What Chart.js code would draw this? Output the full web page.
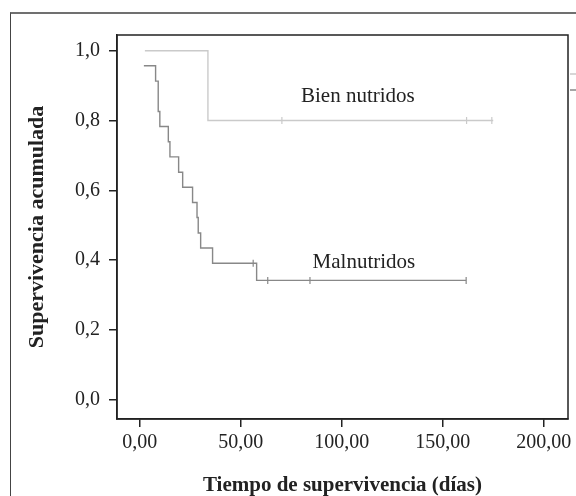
<!DOCTYPE html>
<html>
<head>
<meta charset="utf-8">
<script src="https://cdn.jsdelivr.net/npm/chart.js@4"></script>
<style>
body { margin: 0; background: #fff; }
#wrap { position: relative; width: 576px; height: 496px; overflow: hidden; }
#frame { position: absolute; left: 10px; top: 12px; width: 620px; height: 540px; border-top: 2px solid #707070; border-left: 1px solid #444; }
canvas { position: absolute; left: 0; top: 0; }
</style>
</head>
<body>
<div id="wrap">
  <div id="frame"></div>
  <canvas id="kmChart" width="576" height="496"></canvas>
</div>
<script>
// ticks
var xTicks = [0, 50, 100, 150, 200];
var yTicks = [0, 0.2, 0.4, 0.6, 0.8, 1.0];

// Bien nutridos (tiempo en dias, supervivencia)
var bienTimes = [2.6, 33.8, 175];
var bienSurv = [1.0, 0.8, 0.8];
var bienCensTimes = [70.4, 161.8, 174.3];
var bienCensSurv = [0.8, 0.8, 0.8];

// Malnutridos
var malTimes = [2.1, 7.9, 9.2, 10.0, 14.2, 15.0, 19.3, 21.3, 26.2, 28.4, 29.0, 30.2, 36.1, 57.9, 161.6];
var malSurv = [0.957, 0.913, 0.826, 0.783, 0.739, 0.696, 0.652, 0.609, 0.565, 0.522, 0.478, 0.435, 0.391, 0.342, 0.342];
var malCensTimes = [56.2, 63.4, 84.3, 161.6];
var malCensSurv = [0.391, 0.342, 0.342, 0.342];

var groupNames = ['Bien nutridos', 'Malnutridos'];

function toPoints(xs, ys) {
    return xs.map(function (x, i) { return { x: x, y: ys[i] }; });
}

var serif = '"Liberation Serif", "DejaVu Serif", serif';
var bienColor = '#cacaca';
var malColor = '#888888';

//box round the plot, curve names and the cut legend bits on the right
var extras = {
    id: 'extras',
    afterDatasetsDraw: function (chart) {
        var ctx = chart.ctx;
        var a = chart.chartArea;
        var xs = chart.scales.x;
        var ys = chart.scales.y;
        ctx.save();
        ctx.strokeStyle = '#222';
        ctx.lineWidth = 1.5;
        ctx.strokeRect(a.left, a.top, a.right - a.left, a.bottom - a.top);

        ctx.font = '21px ' + serif;
        ctx.fillStyle = '#222';
        ctx.textAlign = 'center';
        ctx.textBaseline = 'middle';
        ctx.fillText(groupNames[0], xs.getPixelForValue(108), ys.getPixelForValue(0.87));
        ctx.fillText(groupNames[1], xs.getPixelForValue(111), ys.getPixelForValue(0.393));

        ctx.lineWidth = 1.5;
        ctx.strokeStyle = bienColor;
        ctx.beginPath();
        ctx.moveTo(a.right + 2, a.top + 39);
        ctx.lineTo(chart.width, a.top + 39);
        ctx.stroke();
        ctx.strokeStyle = malColor;
        ctx.beginPath();
        ctx.moveTo(a.right + 2, a.top + 55);
        ctx.lineTo(chart.width, a.top + 55);
        ctx.stroke();
        ctx.restore();
    }
};

var ctx = document.getElementById('kmChart');
var kmChart = new Chart(ctx, {
    type: 'line',
    data: {
        datasets: [{
            label: groupNames[0],
            data: toPoints(bienTimes, bienSurv),
            borderColor: bienColor,
            borderWidth: 1.4,
            stepped: 'before',
            pointRadius: 0,
            fill: false
        }, {
            label: groupNames[1],
            data: toPoints(malTimes, malSurv),
            borderColor: malColor,
            borderWidth: 1.4,
            stepped: 'before',
            pointRadius: 0,
            fill: false
        }, {
            label: groupNames[0] + ' censurado',
            data: toPoints(bienCensTimes, bienCensSurv),
            showLine: false,
            pointStyle: 'line',
            rotation: 90,
            pointRadius: 3.5,
            pointBorderWidth: 1.2,
            pointBorderColor: bienColor,
            borderColor: bienColor
        }, {
            label: groupNames[1] + ' censurado',
            data: toPoints(malCensTimes, malCensSurv),
            showLine: false,
            pointStyle: 'line',
            rotation: 90,
            pointRadius: 3.5,
            pointBorderWidth: 1.2,
            pointBorderColor: malColor,
            borderColor: malColor
        }]
    },
    options: {
        responsive: false,
        animation: false,
        layout: { padding: { top: 35, right: 8, left: 0, bottom: 0 } },
        plugins: {
            legend: { display: false },
            tooltip: { enabled: false }
        },
        scales: {
            x: {
                type: 'linear',
                min: -11.2,
                max: 212,
                afterBuildTicks: function (axis) {
                    axis.ticks = xTicks.map(function (v) { return { value: v }; });
                },
                afterFit: function (axis) { axis.height = 77; },
                grid: { drawOnChartArea: false, drawTicks: true, tickLength: 8, color: '#222', lineWidth: 1.5 },
                border: { display: true, color: '#222', width: 1.5 },
                ticks: {
                    padding: 4,
                    color: '#222',
                    font: { family: serif, size: 20 },
                    maxRotation: 0,
                    callback: function (v) { return v.toFixed(2).replace('.', ','); }
                },
                title: {
                    display: true,
                    text: 'Tiempo de supervivencia (días)',
                    color: '#222',
                    font: { family: serif, size: 21, weight: 'bold', lineHeight: 1.0 },
                    padding: { top: 0, bottom: 0 }
                }
            },
            y: {
                type: 'linear',
                min: -0.055,
                max: 1.045,
                afterBuildTicks: function (axis) {
                    axis.ticks = yTicks.map(function (v) { return { value: v }; });
                },
                afterFit: function (axis) { axis.width = 117; },
                grid: { drawOnChartArea: false, drawTicks: true, tickLength: 8, color: '#222', lineWidth: 1.5 },
                border: { display: true, color: '#222', width: 1.5 },
                ticks: {
                    padding: 9,
                    color: '#222',
                    font: { family: serif, size: 20 },
                    callback: function (v) { return v.toFixed(1).replace('.', ','); }
                },
                title: {
                    display: true,
                    text: 'Supervivencia acumulada',
                    color: '#222',
                    font: { family: serif, size: 22, weight: 'bold' },
                    padding: { top: 24, bottom: 0 }
                }
            }
        }
    },
    plugins: [extras]
});
</script>
</body>
</html>
